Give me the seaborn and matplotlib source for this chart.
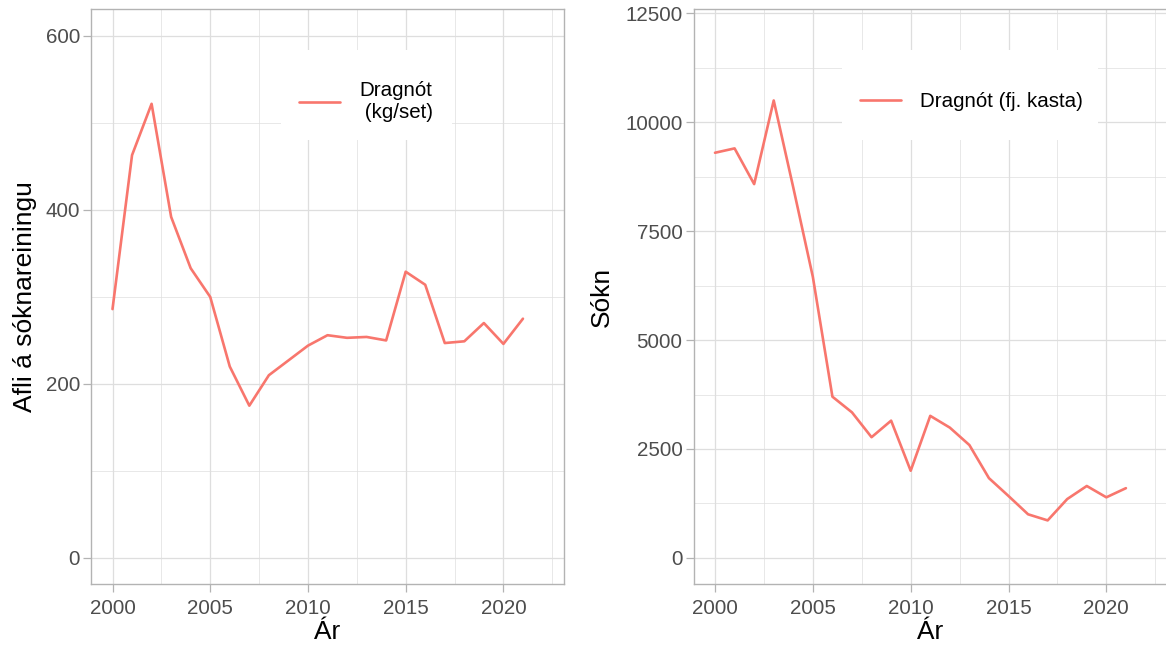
import numpy as np
import pandas as pd
import matplotlib
matplotlib.use("Agg")
import matplotlib.pyplot as plt
from matplotlib.patches import Rectangle
from matplotlib.ticker import FixedLocator
import seaborn as sns

years = list(range(2000, 2022))
cpue = [286, 463, 522, 392, 333, 300, 220, 175, 210, 227, 244, 256,
        253, 254, 250, 329, 314, 247, 249, 270, 246, 275]
effort = [9300, 9400, 8580, 10500, 8500, 6450, 3700, 3340, 2770, 3150, 2000, 3260,
          2990, 2590, 1830, 1420, 1000, 860, 1350, 1650, 1390, 1600]
label_left = "Dragnót\n (kg/set)"
label_right = "Dragnót (fj. kasta)"
ylabel_left = "Afli á sóknareiningu"
ylabel_right = "Sókn"
xlabel = "Ár"
x_ticks = [2000, 2005, 2010, 2015, 2020]
y_ticks_left = [0, 200, 400, 600]
y_ticks_right = [0, 2500, 5000, 7500, 10000, 12500]

sns.set_theme(style="whitegrid")
plt.rcParams['font.family'] = ['Liberation Sans', 'DejaVu Sans']

LINE = "#F8766D"
GRID = "#DEDEDE"
BORDER = "#B3B3B3"
TICKC = "#4D4D4D"
FS_TICK = 14.8
FS_TITLE = 19

df_l = pd.DataFrame({"year": years, "val": cpue})
df_r = pd.DataFrame({"year": years, "val": effort})

fig = plt.figure(figsize=(11.66, 6.46), dpi=100)
W, H = 1166, 646

def make_ax(x0, x1, y0, y1):
    return fig.add_axes([x0 / W, 1 - y1 / H, (x1 - x0) / W, (y1 - y0) / H])

axL = make_ax(91, 564, 9, 584)
axR = make_ax(693.5, 1167, 9, 584)

def style(ax, yticks, yminor, ylim, ylabel, ylpad):
    ax.set_facecolor("white")
    ax.set_xlim(1998.9, 2023.1)
    ax.set_ylim(*ylim)
    ax.xaxis.set_major_locator(FixedLocator(x_ticks))
    ax.xaxis.set_minor_locator(FixedLocator([2002.5, 2007.5, 2012.5, 2017.5, 2022.5]))
    ax.yaxis.set_major_locator(FixedLocator(yticks))
    ax.yaxis.set_minor_locator(FixedLocator(yminor))
    ax.grid(which="major", color=GRID, linewidth=0.9)
    ax.grid(which="minor", color=GRID, linewidth=0.5)
    ax.set_axisbelow(True)
    for s in ax.spines.values():
        s.set_color(BORDER)
        s.set_linewidth(1.0)
    ax.tick_params(which="major", length=5.5, width=0.9, color=BORDER,
                   labelcolor=TICKC, labelsize=FS_TICK, pad=2.5,
                   bottom=True, left=True)
    ax.tick_params(axis="x", which="major", pad=5)
    ax.tick_params(which="minor", length=0)
    ax.set_xticklabels([str(t) for t in x_ticks])
    ax.set_yticklabels([str(t) for t in yticks])
    ax.set_xlabel(xlabel, fontsize=FS_TITLE, color="black", labelpad=2)
    ax.set_ylabel(ylabel, fontsize=FS_TITLE, color="black", labelpad=ylpad)

sns.lineplot(data=df_l, x="year", y="val", ax=axL, color=LINE, linewidth=1.9,
             label=label_left, zorder=3)
sns.lineplot(data=df_r, x="year", y="val", ax=axR, color=LINE, linewidth=1.9,
             label=label_right, zorder=3)

style(axL, y_ticks_left, [100, 300, 500], (-30, 631), ylabel_left, 6)
style(axR, y_ticks_right, [1250, 3750, 6250, 8750, 11250], (-600, 12600), ylabel_right, 8)

# legend backgrounds
axL.add_patch(Rectangle((0.4017, 0.7722), 0.3615, 0.1565, transform=axL.transAxes,
                        facecolor="white", edgecolor="none", zorder=2))
axR.add_patch(Rectangle((0.3136, 0.7722), 0.5407, 0.1565, transform=axR.transAxes,
                        facecolor="white", edgecolor="none", zorder=2))

for ax, xa in ((axL, 0.4397), (axR, 0.3516)):
    leg = ax.legend(loc="center left", bbox_to_anchor=(xa, 0.8388), frameon=False,
                    fontsize=FS_TICK, handlelength=2.0, handletextpad=0.93,
                    borderpad=0, borderaxespad=0)
    leg.set_zorder(5)
    for t in leg.get_texts():
        t.set_color("black")

fig.savefig("out.png", dpi=100, facecolor="white")
